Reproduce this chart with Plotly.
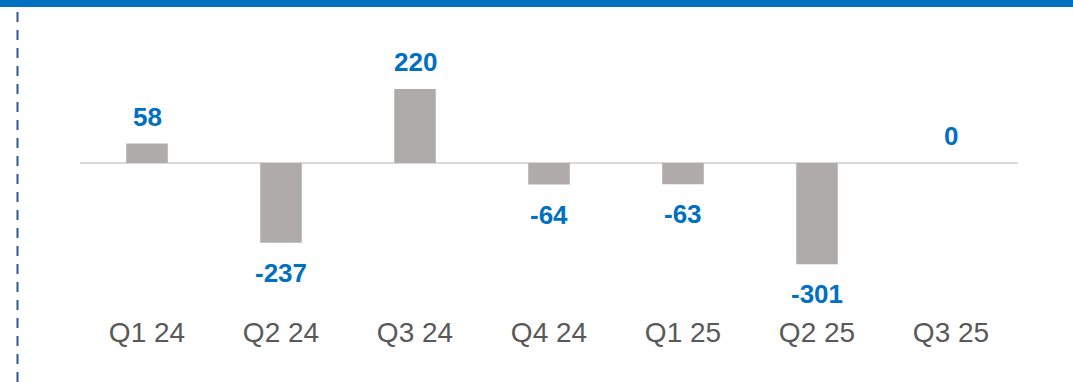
import plotly.graph_objects as go

quarters = ["Q1 24", "Q2 24", "Q3 24", "Q4 24", "Q1 25", "Q2 25", "Q3 25"]
values = [58, -237, 220, -64, -63, -301, 0]

BAR_GREY = "#AFABAB"
LABEL_BLUE = "#0070C0"
TICK_GREY = "#595959"

W, H = 1073, 382
ML, MR, MT, MB = 80, 55, 20, 69
plot_w = W - ML - MR
plot_h = H - MT - MB

fig = go.Figure(
    go.Bar(
        x=quarters,
        y=values,
        width=0.31,
        marker=dict(color=BAR_GREY, line=dict(width=0)),
        hoverinfo="skip",
    )
)

# value labels above positive / zero bars, below negative bars
for q, v in zip(quarters, values):
    fig.add_annotation(
        x=q, y=v, text=f"<b>{v}</b>", showarrow=False,
        yanchor="middle", yshift=-30 if v < 0 else 27,
        font=dict(family="Liberation Sans, Arial", size=26, color=LABEL_BLUE),
    )

# blue header strip along the top edge
fig.add_shape(
    type="rect", xref="paper", yref="paper", layer="above",
    x0=-ML / plot_w, x1=1 + MR / plot_w,
    y0=1 + (MT - 7) / plot_h, y1=1 + MT / plot_h,
    fillcolor="#0070C0", line=dict(width=0),
)
# dashed divider on the left
fig.add_shape(
    type="line", xref="paper", yref="paper",
    x0=-(ML - 17.5) / plot_w, x1=-(ML - 17.5) / plot_w,
    y0=-MB / plot_h, y1=1 + (MT - 9) / plot_h,
    line=dict(color="#2F5496", width=2, dash="10px,8px"),
)

fig.update_layout(
    width=W, height=H,
    margin=dict(l=ML, r=MR, t=MT, b=MB),
    paper_bgcolor="white", plot_bgcolor="white",
    showlegend=False,
    bargap=0.69,
    xaxis=dict(
        showgrid=False, showline=False, zeroline=False, ticks="",
        tickfont=dict(family="Liberation Sans, Arial", size=28, color=TICK_GREY),
        fixedrange=True,
    ),
    yaxis=dict(
        range=[-446.4, 425.6],
        showgrid=False, showticklabels=False, ticks="",
        zeroline=True, zerolinecolor="#D9D9D9", zerolinewidth=2,
        fixedrange=True,
    ),
)

fig.write_html("out.html", config={"displayModeBar": False})
